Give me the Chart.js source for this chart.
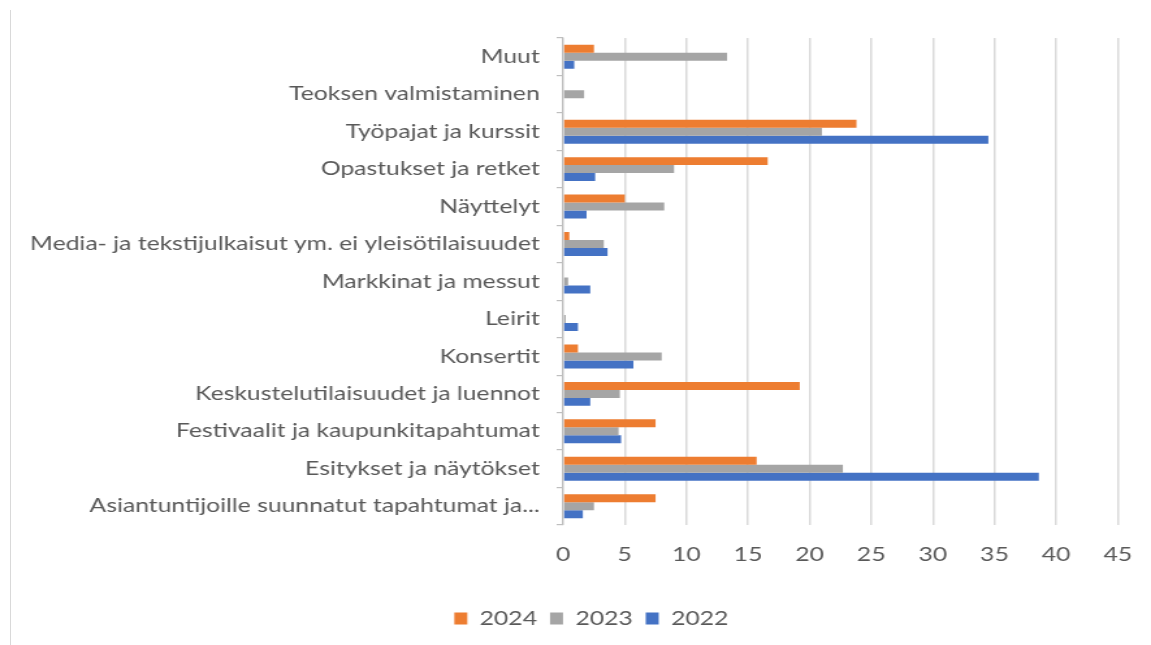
<!DOCTYPE html>
<html>
<head>
<meta charset="utf-8">
<script src="https://cdn.jsdelivr.net/npm/chart.js@4/dist/chart.umd.min.js"></script>
<style>
  html, body { margin: 0; padding: 0; background: #fff; overflow: hidden; }
  #wrap { position: relative; width: 1151px; height: 645px; }
  #frame { position: absolute; left: 10px; top: 10px; bottom: 0; border-left: 1px solid #D9D9D9; }
  #chart { position: absolute; left: 0; top: 0; }
</style>
</head>
<body>
<div id="wrap">
  <div id="frame"></div>
  <!-- the source picture is stretched sideways, so the canvas is drawn narrow and widened -->
  <canvas id="chart" width="885" height="645" style="width:1151px;height:645px"></canvas>
</div>
<script>
// ── Data (top to bottom as shown) ────────────────────────────────────────────
const categories = [
  'Muut',
  'Teoksen valmistaminen',
  'Työpajat ja kurssit',
  'Opastukset ja retket',
  'Näyttelyt',
  'Media- ja tekstijulkaisut ym. ei yleisötilaisuudet',
  'Markkinat ja messut',
  'Leirit',
  'Konsertit',
  'Keskustelutilaisuudet ja luennot',
  'Festivaalit ja kaupunkitapahtumat',
  'Esitykset ja näytökset',
  'Asiantuntijoille suunnatut tapahtumat ja...',
];

const values2024 = [2.5, 0, 23.8, 16.6, 5.0, 0.5, 0, 0, 1.2, 19.2, 7.5, 15.7, 7.5];
const values2023 = [13.3, 1.7, 21.0, 9.0, 8.2, 3.3, 0.4, 0.2, 8.0, 4.6, 4.5, 22.7, 2.5];
const values2022 = [0.9, 0, 34.5, 2.6, 1.9, 3.6, 2.2, 1.2, 5.7, 2.2, 4.7, 38.6, 1.6];

const xTicks = [0, 5, 10, 15, 20, 25, 30, 35, 40, 45];

// ── Styling ──────────────────────────────────────────────────────────────────
const textColor = '#595959';

Chart.defaults.font.family = 'Lato, "Open Sans", sans-serif';
Chart.defaults.color = textColor;

const bar = (label, data, color) => ({
  label, data,
  backgroundColor: color,
  borderWidth: 0,
  barPercentage: 1.0,
  categoryPercentage: 0.64,
});

// Excel centres the legend under the plot, not the whole chart
const legendShift = {
  id: 'legendShift',
  afterLayout(chart) {
    chart.legend.left += 25;
    chart.legend.right += 25;
  },
};

new Chart(document.getElementById('chart'), {
  type: 'bar',
  data: {
    labels: categories,
    datasets: [
      bar('2024', values2024, '#ED7D31'),
      bar('2023', values2023, '#A5A5A5'),
      bar('2022', values2022, '#4472C4'),
    ],
  },
  plugins: [legendShift],
  options: {
    indexAxis: 'y',
    responsive: false,
    animation: false,
    layout: { padding: { top: 38, right: 25.6, bottom: 7, left: 0 } },
    plugins: {
      tooltip: { enabled: false },
      legend: {
        position: 'bottom',
        labels: {
          boxWidth: 10, boxHeight: 12,
          padding: 10,
          color: textColor,
          font: { size: 19 },
        },
      },
    },
    scales: {
      x: {
        min: 0, max: 45,
        afterBuildTicks: s => { s.ticks = xTicks.map(v => ({ value: v })); },
        afterFit: s => { s.height = 74; s.paddingLeft = 0; s.paddingRight = 0; },
        grid: { color: '#D9D9D9', lineWidth: 1.5, drawTicks: false },
        border: { display: false },
        ticks: { color: textColor, font: { size: 19 }, padding: 18 },
      },
      y: {
        afterFit: s => { s.width = 433; },
        grid: {
          drawOnChartArea: false, drawTicks: true, tickLength: 5,
          color: '#BFBFBF', lineWidth: 1.2,
        },
        border: { display: true, color: '#BFBFBF', width: 1.2 },
        ticks: { color: textColor, font: { size: 19 }, padding: 13, autoSkip: false },
      },
    },
  },
});
</script>
</body>
</html>
